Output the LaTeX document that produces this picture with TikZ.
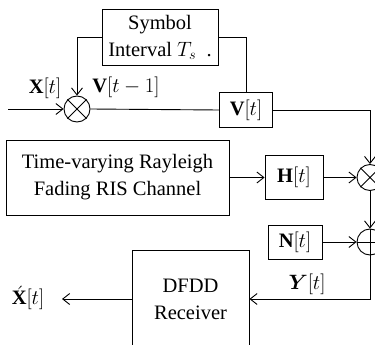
\documentclass[tikz,border=0pt]{standalone}
\usepackage{amsmath}
\usepackage{fontspec}
\setmainfont{Liberation Serif}
\usetikzlibrary{arrows.meta}
\begin{document}
\begin{tikzpicture}[x=1pt,y=-1pt,line width=0.9pt,
  txt/.style={font=\fontsize{20.5}{27}\selectfont},
  blk/.style={draw,txt,align=center,inner sep=0pt},
  op/.style={draw,circle,minimum size=26pt,inner sep=0pt},
  arr/.style={-{Straight Barb[length=7pt,width=11pt]}}]
\useasboundingbox (0,0) rectangle (375,345);
\clip (0,0) rectangle (375,345);
% blocks
\node[blk,minimum width=116pt,minimum height=56pt] (sym) at (160,37) {Symbol\\Interval $T_s$\ \ .};
\node[op] (m1) at (77,109) {};
\draw (m1.north east) -- (m1.south west) (m1.north west) -- (m1.south east);
\node[blk,minimum width=53pt,minimum height=35pt] (vt) at (246,110) {$\mathbf{V}[t]$};
\node[blk,minimum width=223pt,minimum height=75pt] (tv) at (117.5,177.5) {Time-varying Rayleigh\\Fading RIS Channel};
\node[blk,minimum width=58pt,minimum height=44pt] (ht) at (294,177.5) {$\mathbf{H}[t]$};
\node[op] (m2) at (370,177.5) {};
\draw (m2.north east) -- (m2.south west) (m2.north west) -- (m2.south east);
\node[blk,minimum width=54pt,minimum height=34pt] (nt) at (295,242) {$\mathbf{N}[t]$};
\node[op] (ad) at (370,242) {};
\draw (ad.north) -- (ad.south) (ad.west) -- (ad.east);
\node[blk,minimum width=117pt,minimum height=98pt] (rx) at (190.5,299) {DFDD\\Receiver};
\coordinate (in) at (8,109);
\coordinate (out) at (62,299);
% labels
\node[txt] (lx) at (45,88) {$\mathbf{X}[t]$};
\node[txt] (lv) at (126,87) {$\mathbf{V}[t-1]$};
\node[txt] (ly) at (307,284) {$\boldsymbol{Y}[t]$};
\node[txt] (lo) at (28,298) {$\acute{\mathbf{X}}[t]$};
% connectors
\draw[arr] (in) -- (m1.west);
\draw (m1.east) -- (vt.west);
\draw (sym.east) -| (vt.north);
\draw[arr] (sym.west) -| (m1.north);
\draw[arr] (vt.east) -| (m2.north);
\draw[arr] (tv.east) -- (ht.west);
\draw[arr] (ht.east) -- (m2.west);
\draw[arr] (m2.south) -- (ad.north);
\draw[arr] (nt.east) -- (ad.west);
\draw[arr] (ad.south) |- (rx.east);
\draw[arr] (rx.west) -- (out);
\end{tikzpicture}
\end{document}
